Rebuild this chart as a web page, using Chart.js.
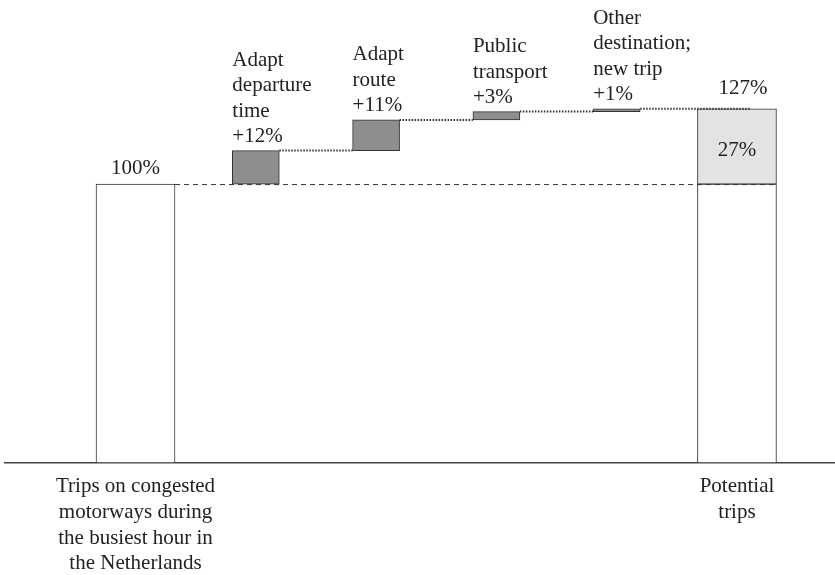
<!DOCTYPE html>
<html>
<head>
<meta charset="utf-8">
<script src="https://cdn.jsdelivr.net/npm/chart.js@4.4.1/dist/chart.umd.min.js"></script>
<style>
  html, body { margin: 0; padding: 0; background: #fff; }
  #wrap { width: 835px; height: 575px; }
</style>
</head>
<body>
<div id="wrap"><canvas id="chart" width="835" height="575"></canvas></div>
<script>
// Category labels, one per x position (0..5)
const categories = [
  ['Trips on congested', 'motorways during', 'the busiest hour in', 'the Netherlands'],
  ['Adapt', 'departure', 'time'],
  ['Adapt', 'route'],
  ['Public', 'transport'],
  ['Other', 'destination;', 'new trip'],
  ['Potential', 'trips']
];
const baseValue = 100;              // trips today (%)
const increments = [12, 11, 3, 1];  // extra trips per behaviour change (%)
const totalValue = 127;             // potential trips (%)
const extraValue = 27;

const FONT = 'Liberation Serif, Times New Roman, serif';
const TEXT = '#222';

// floating bars for the increments
let running = baseValue;
const stepBars = increments.map((v, i) => {
  const bar = { x: i + 1, y: [running, running + v] };
  running += v;
  return bar;
});

// Labels, connectors and dashed reference line
const annotate = {
  id: 'annotate',
  afterDatasetsDraw(chart) {
    const ctx = chart.ctx;
    const totals = chart.getDatasetMeta(0).data;
    const extra = chart.getDatasetMeta(1).data[0];
    const steps = chart.getDatasetMeta(2).data;
    ctx.save();
    ctx.fillStyle = TEXT;
    ctx.font = '21px ' + FONT;

    // dashed line at 100%
    ctx.strokeStyle = '#333';
    ctx.lineWidth = 1;
    ctx.setLineDash([5, 4]);
    ctx.beginPath();
    ctx.moveTo(totals[0].x + totals[0].width / 2, totals[0].y + 0.5);
    ctx.lineTo(totals[1].x + totals[1].width / 2, totals[0].y + 0.5);
    ctx.stroke();

    // dotted connectors
    ctx.setLineDash([1.5, 1.5]);
    ctx.lineWidth = 2;
    steps.forEach((el, i) => {
      const next = i < steps.length - 1 ? steps[i + 1] : extra;
      const endX = i < steps.length - 1 ? next.x - next.width / 2 : next.x + 13;
      ctx.beginPath();
      ctx.moveTo(el.x + el.width / 2, el.y);
      ctx.lineTo(endX, el.y);
      ctx.stroke();
    });
    ctx.setLineDash([]);

    // step labels, left aligned on the bar
    ctx.textAlign = 'left';
    ctx.textBaseline = 'middle';
    steps.forEach((el, i) => {
      const lines = categories[i + 1].concat(['+' + increments[i] + '%']);
      const left = el.x - el.width / 2;
      lines.forEach((t, k) => {
        ctx.fillText(t, left, el.y - 14 - (lines.length - 1 - k) * 25.5);
      });
    });

    // totals
    ctx.textAlign = 'center';
    ctx.fillText(baseValue + '%', totals[0].x, totals[0].y - 16);
    ctx.fillText(totalValue + '%', extra.x + 6, extra.y - 20);
    ctx.fillText(extraValue + '%', extra.x, (extra.y + extra.base) / 2 + 4);
    ctx.restore();
  }
};

new Chart(document.getElementById('chart'), {
  type: 'bar',
  data: {
    datasets: [
      {
        data: [{ x: 0, y: [0, baseValue] }, { x: 5, y: [0, baseValue] }],
        backgroundColor: '#ffffff',
        borderColor: '#333',
        borderWidth: 1,
        borderSkipped: false,
        barThickness: 79,
        grouped: false
      },
      {
        data: [{ x: 5, y: [baseValue, baseValue + extraValue] }],
        backgroundColor: '#e3e3e5',
        borderColor: '#333',
        borderWidth: 1,
        borderSkipped: false,
        barThickness: 79,
        grouped: false
      },
      {
        data: stepBars,
        backgroundColor: '#8e8e91',
        borderColor: '#333',
        borderWidth: 1,
        borderSkipped: false,
        barThickness: 47,
        grouped: false
      }
    ]
  },
  options: {
    responsive: false,
    animation: false,
    layout: { padding: { left: 5, right: 0, top: 0, bottom: 0 } },
    plugins: { legend: { display: false }, tooltip: { enabled: false } },
    scales: {
      x: {
        type: 'linear',
        offset: false,
        bounds: 'data',
        min: -1.085,
        max: 5.815,
        grid: { display: false, drawTicks: false },
        border: { display: true, color: '#444', width: 1.5 },
        afterBuildTicks: s => { s.ticks = categories.map((c, i) => ({ value: i })); },
        afterFit: s => { s.height = 112; },
        ticks: {
          autoSkip: false,
          maxRotation: 0,
          padding: 11,
          color: TEXT,
          font: { family: FONT, size: 21, lineHeight: 1.22 },
          callback: v => (v === 0 || v === 5) ? categories[v] : ''
        }
      },
      y: {
        display: false,
        min: 0,
        max: 166
      }
    }
  },
  plugins: [annotate]
});
</script>
</body>
</html>
